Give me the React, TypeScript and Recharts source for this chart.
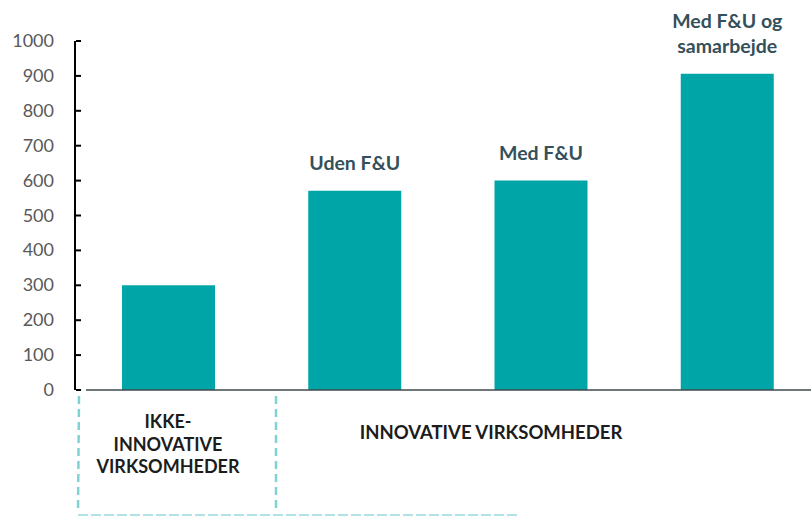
import { Bar, BarChart, LabelList, XAxis, YAxis } from "recharts";

const categories = ["Ikke-innovative", "Uden F&U", "Med F&U", "Med F&U og samarbejde"];
const values = [300, 571, 600, 906];
const barLabels = [[], ["Uden F&U"], ["Med F&U"], ["Med F&U og", "samarbejde"]];
const yTicks = [0, 100, 200, 300, 400, 500, 600, 700, 800, 900, 1000];
const groupLeft = ["IKKE-", "INNOVATIVE", "VIRKSOMHEDER"];
const groupRight = "INNOVATIVE VIRKSOMHEDER";

const TEAL = "#00A6A7";
const DASH = "#7FD2D3";
const FONT = "Lato, 'Open Sans', sans-serif";

const data = categories.map((name, i) => ({ name, value: values[i], label: barLabels[i] }));

// y ticks point into the plot, labels sit well left of the axis
function YTick({ y, payload }: any) {
  return (
    <g>
      <line x1={76} x2={81} y1={y} y2={y} stroke="#000" strokeWidth={2} />
      <text x={54} y={y} dy={6} textAnchor="end" fill="#595959" fontSize={18} fontFamily={FONT}>
        {payload.value}
      </text>
    </g>
  );
}

function BarText(props: any) {
  const { x, y, width, index } = props;
  const lines: string[] = barLabels[index] || [];
  const cx = x + width / 2;
  return (
    <text textAnchor="middle" fill="#34505B" fontSize={19.5} fontWeight={700} fontFamily={FONT}>
      {lines.map((l, i) => (
        <tspan key={i} x={cx} y={y - 21 - (lines.length - 1 - i) * 25}>
          {l}
        </tspan>
      ))}
    </text>
  );
}

export default function App() {
  return (
    <div style={{ position: "absolute", left: 0, top: 0, width: 811, height: 516, overflow: "hidden", background: "#fff" }}>
      <BarChart
        width={820}
        height={516}
        data={data}
        margin={{ top: 41, right: 0, bottom: 126, left: 0 }}
        barCategoryGap={0}
      >
        <XAxis dataKey="name" hide />
        <YAxis
          width={75}
          domain={[0, 1000]}
          ticks={yTicks}
          interval={0}
          axisLine={{ stroke: "#000", strokeWidth: 2 }}
          tickLine={false}
          tick={<YTick />}
        />
        <Bar dataKey="value" fill={TEAL} barSize={93} isAnimationActive={false}>
          <LabelList dataKey="value" content={<BarText />} />
        </Bar>
      </BarChart>
      <svg width={811} height={516} style={{ position: "absolute", left: 0, top: 0, pointerEvents: "none" }}>
        <line x1={86} x2={811} y1={390} y2={390} stroke="#3F4A4C" strokeWidth={1.5} />
        <line x1={79} x2={78} y1={396} y2={512} stroke={DASH} strokeWidth={2.5} strokeDasharray="8 5" />
        <line x1={276} x2={276} y1={396} y2={512} stroke={DASH} strokeWidth={2.5} strokeDasharray="8 5" />
        <line x1={78} x2={520} y1={515} y2={515} stroke={DASH} strokeWidth={2} strokeDasharray="10 3" opacity={0.6} />
        <text textAnchor="middle" fill="#1C1C1C" fontSize={18} fontWeight={700} fontFamily={FONT}>
          {groupLeft.map((l, i) => (
            <tspan key={i} x={168} y={428 + i * 22.5}>
              {l}
            </tspan>
          ))}
        </text>
        <text x={491} y={439} textAnchor="middle" fill="#1C1C1C" fontSize={18.5} fontWeight={700} fontFamily={FONT}>
          {groupRight}
        </text>
      </svg>
    </div>
  );
}
